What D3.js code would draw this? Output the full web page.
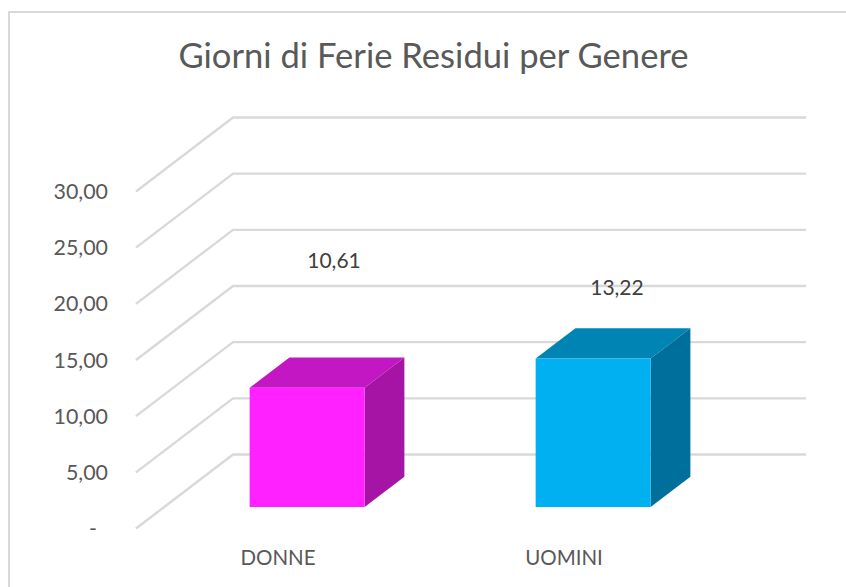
<!DOCTYPE html>
<html>
<head>
<meta charset="utf-8">
<script src="https://cdn.jsdelivr.net/npm/d3@7"></script>
<style>
  html, body { margin: 0; padding: 0; background: #fff; }
  svg { display: block; }
  text { font-family: Lato, "Open Sans", sans-serif; }
</style>
</head>
<body>
<svg id="chart" width="846" height="587"></svg>
<script>
var categories = ["DONNE", "UOMINI"];
var values = [10.61, 13.22];
var yTicks = [0, 5, 10, 15, 20, 25, 30];
var barColors = ["#ff21ff", "#00b0f0"];
var topColors = ["#c217c2", "#0084b4"];
var sideColors = ["#a514a5", "#006f9c"];

var svg = d3.select("#chart");
var comma = d3.format(".2f");
function fmt(d) { return d === 0 ? "-" : comma(d).replace(".", ","); }

// frame: only top and left edges are in the picture
svg.append("path")
  .attr("fill", "none")
  .attr("stroke", "#d9d9d9")
  .attr("stroke-width", 2)
  .attr("d", "M9,587V12H846");

svg.append("text")
  .attr("x", 433.5).attr("y", 68)
  .attr("text-anchor", "middle")
  .attr("font-size", 34.6)
  .attr("fill", "#595959")
  .text("Giorni di Ferie Residui per Genere");

// front plane of the 3d box, depth 0..1 goes to the back wall
var y = d3.scaleLinear().domain([0, 30]).range([528.5, 191.5]);
var x = d3.scaleBand().domain(categories).range([50.5, 793.5]).paddingInner(0.598).paddingOuter(0.598);
var depthX = d3.scaleLinear().domain([0, 1]).range([0, 97]);
var depthY = d3.scaleLinear().domain([0, 1]).range([0, -74]);

var wallLeft = 136, wallRight = 709;

// gridlines: side edge then along the back wall
svg.append("g").selectAll("path")
  .data(yTicks)
  .join("path")
  .attr("fill", "none")
  .attr("stroke", "#d9d9d9")
  .attr("stroke-width", 2.4)
  .attr("d", function (d) {
    return d3.line()([
      [wallLeft, y(d)],
      [wallLeft + depthX(1), y(d) + depthY(1)],
      [wallRight + depthX(1), y(d) + depthY(1)]
    ]);
  });

// axis labels
svg.append("g").selectAll("text")
  .data(yTicks)
  .join("text")
  .attr("x", function (d) { return d === 0 ? 97 : 108; })
  .attr("y", function (d) { return y(d) + 7.5; })
  .attr("text-anchor", "end")
  .attr("font-size", 21.4)
  .attr("fill", "#595959")
  .text(fmt);

// bars sit between these two depths
var d0 = 0.29, d1 = 0.70;

var bars = svg.append("g").selectAll("g")
  .data(categories)
  .join("g");

function pt(i, w, v, dep) {
  return [x(categories[i]) + w * x.bandwidth() + depthX(dep), y(v) + depthY(dep)];
}

bars.append("path")
  .attr("fill", function (d, i) { return topColors[i]; })
  .attr("d", function (d, i) {
    return d3.line()([pt(i, 0, values[i], d0), pt(i, 1, values[i], d0), pt(i, 1, values[i], d1), pt(i, 0, values[i], d1)]) + "Z";
  });

bars.append("path")
  .attr("fill", function (d, i) { return sideColors[i]; })
  .attr("d", function (d, i) {
    return d3.line()([pt(i, 1, 0, d0), pt(i, 1, values[i], d0), pt(i, 1, values[i], d1), pt(i, 1, 0, d1)]) + "Z";
  });

bars.append("path")
  .attr("fill", function (d, i) { return barColors[i]; })
  .attr("d", function (d, i) {
    return d3.line()([pt(i, 0, 0, d0), pt(i, 1, 0, d0), pt(i, 1, values[i], d0), pt(i, 0, values[i], d0)]) + "Z";
  });

// data labels were dragged by hand in the original
var labelDx = [55, 52];
var labelDy = [-119.5, -64];

svg.append("g").selectAll("text")
  .data(values)
  .join("text")
  .attr("x", function (d, i) { return x(categories[i]) + x.bandwidth() / 2 + labelDx[i]; })
  .attr("y", function (d, i) { return y(d) + depthY(d0) + labelDy[i]; })
  .attr("text-anchor", "middle")
  .attr("font-size", 21)
  .attr("fill", "#404040")
  .text(fmt);

// category labels
svg.append("g").selectAll("text")
  .data(categories)
  .join("text")
  .attr("x", function (d) { return x(d) + x.bandwidth() / 2 - 1; })
  .attr("y", 565)
  .attr("text-anchor", "middle")
  .attr("font-size", 20.5)
  .attr("fill", "#595959")
  .text(function (d) { return d; });
</script>
</body>
</html>
